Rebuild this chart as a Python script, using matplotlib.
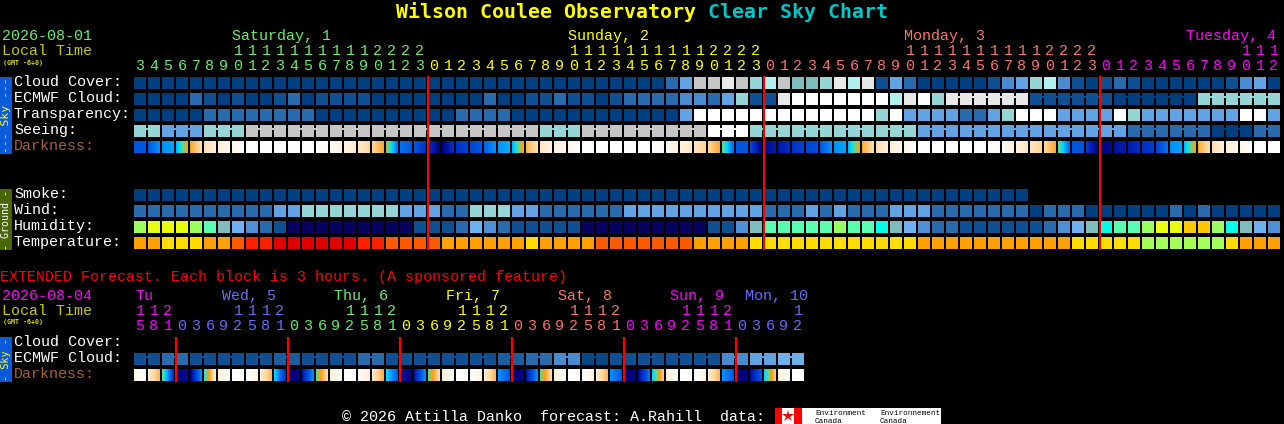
import numpy as np
import matplotlib
matplotlib.use("Agg")
import matplotlib.pyplot as plt
from matplotlib.colors import LinearSegmentedColormap

# ---------- data: category levels per block ----------
cloud = [0]*38 + [2, 4, 8, 8, 9, 8, 6, 7, 8, 5, 5, 6, 9, 7, 9, 1, 4, 2, 0, 0, 0, 0, 0, 1, 3, 4, 6, 7, 3, 1, 0, 1, 2, 1,
         0, 0, 0, 0, 0, 0, 1, 3, 4, 0]
ecmwf = [0, 0, 0, 0, 2, 1, 0, 1, 0, 0, 1, 2, 0, 1, 1, 1, 1, 0, 0, 0, 0,
         0, 0, 0, 0, 2, 0, 0, 1, 1, 2, 1, 1, 0, 1, 2, 2, 2, 2, 3, 3, 2, 4, 6, 1, 1, 9, 10, 10, 10, 10, 10,
         10, 10, 7, 9, 10, 6, 9, 9, 9, 9, 9, 9, 1, 1, 1, 1, 1, 1, 0, 0, 0, 0, 0, 0, 6, 6, 6, 6, 6, 6]
ecmwf_runs = [1]*58 + [6, 6, 6, 6]
transp = [0, 0, 0, 0, 0, 2, 2, 2, 2, 2, 2, 2, 2, 0, 0, 0, 0, 0, 0, 0, 0,
          0, 0, 2, 2, 2, 2, 0, 0, 0, 0, 0, 0, 0, 0, 0, 0, 0, 0, 4, 10, 10, 10, 10, 10, 10, 10, 10, 10, 10, 10, 10,
          10, 6, 10, 4, 4, 4, 4, 2, 2, 4, 6, 10, 10, 10, 4, 4, 4, 4, 10, 6, 4, 4, 4, 4, 4, 4, 4, 10, 10, 4]
seeing_runs = [2, 3, 3, 3, 3, 3, 3, 3, 3, 3, 3, 3, 3, 3, 3, 3, 3, 3, 3, 3, 3, 3, 3, 3, 3, 3, 3, 2]
seeing_levels = [6, 4, 6, 8, 8, 8, 8, 8, 8, 8, 6, 8, 8, 8, 10, 6, 6, 6, 6, 4, 4, 4, 4, 4, 2, 2, 0, 2]

dark_start = [2, 2, 3, 3.5, 6.2, 7.5, 8, 8.5, 9, 9, 9, 9, 9, 9, 8.7, 8.3, 7.8, 7.2, 5.5, 2.5, 2,
              1, 0, 1, 1.5, 2.2, 3, 3.5, 6.5, 7.7, 8.2, 8.5, 9, 9, 9, 9, 9, 9, 8.6, 8.2, 7.7, 7.2, 5, 2, 1.5, 0.3, 0.5, 1, 1.5, 2, 3, 3.5,
              6.3, 7.5, 8, 8.5, 9, 9, 9, 9, 9, 9, 8.6, 8.2, 7.7, 7.2, 5, 2, 1.2, 0.1, 0.4, 0.6, 1, 1.5, 3, 3.6, 6.3, 7.5, 8, 8.5, 9, 9]
dark_end = [2, 3, 3.3, 6, 7.5, 8, 8.5, 9, 9, 9, 9, 9, 9, 8.7, 8.3, 7.8, 7.3, 6.2, 2.5, 2, 1,
            0, 1, 1.5, 2, 3, 3.5, 6.2, 7.5, 8.2, 8.5, 9, 9, 9, 9, 9, 9, 8.6, 8.2, 7.7, 7.2, 6.2, 2.3, 2, 0, 0.6, 1, 1.5, 1.8, 3, 3.3, 6,
            7.5, 8, 8.5, 9, 9, 9, 9, 9, 9, 8.6, 8.2, 7.7, 7.2, 6.2, 2.3, 2, 0, 0.2, 0.6, 1, 1.3, 2.5, 3.3, 6, 7.5, 8, 8.5, 9, 9, 9]

smoke = [0]*64
wind = [2]*10 + [4, 4] + [6]*7 + [4, 4, 4, 2, 2, 6, 6, 6, 4, 4, 2, 2, 2, 2, 2, 2] + [4]*10 + [2, 2, 2, 4, 2, 4, 2,
        2, 2, 4, 4, 4, 2, 2, 2, 2, 2, 2, 2, 0, 2, 2, 2, 0, 0, 0, 0, 0, 0, 2, 0, 2, 0, 0, 0, 0, 0]
humidity = [8, 9, 9, 9, 8, 6, 5, 4, 3, 2, 1] + [0]*9 + [1, 1, 1, 2, 4, 3, 2, 1, 1, 1, 1, 1] + [0]*9 + [1, 1, 3, 5, 6, 6, 6, 6, 6, 8, 6,
            6, 7, 5, 4, 3, 2, 2, 1, 1, 1, 1, 1, 1, 2, 3, 4, 5, 7, 6, 6, 8, 9, 9, 10, 10, 8, 7, 5, 4, 3]
temp = [2, 2, 1, 1, 1, 2, 2, 3, 4, 4, 5, 5, 5, 5, 5, 5, 4, 4, 3, 3, 3,
        3, 2, 2, 2, 2, 2, 2, 1, 2, 2, 2, 2, 3, 3, 3, 3, 3, 3, 3, 2, 2, 2, 2, 1, 1, 1, 1, 1, 1, 1, 1,
        1, 1, 1, 1, 2, 2, 2, 2, 2, 2, 2, 2, 2, 2, 2, 1, 1, 1, 1, 1, 0, 0, 0, 0, 0, 0, 1, 2, 2, 2]

ext_ecmwf_levels = [1, 2, 1, 1, 1, 1.5, 1, 1, 2, 1, 1, 1, 1, 1.5, 2, 3, 0.5, 1, 1, 1, 1, 3, 4, 4.5]
ext_dark_start = [8.5, 8, 5, 0, 0, 4.5, 8, 9, 9, 8, 4, 0, 0.5, 5, 8, 9, 8.8, 7.8, 4, 0.5, 0.5, 5, 8, 9,
                  9, 8, 3, 0, 0.5, 5, 8, 9, 9, 8, 3, 0, 0.2, 4, 8, 9, 9, 8, 3, 0, 0.3, 4, 8, 9]
ext_dark_end = [9, 6.5, 1, 0.3, 3, 8, 9, 9, 8.3, 6.5, 1, 0, 3, 7.5, 9, 9, 8, 6.3, 2, 0, 3, 7.5, 9, 9,
                8.3, 6.5, 2, 0, 3, 7.5, 9, 9, 8.3, 6.5, 2, 0, 2.5, 7, 9, 9, 8.3, 6.5, 2, 0, 2, 7, 9, 9]

tens_main = "       11111111112222" + ("          1111111111" + "2222")*2 + "          111"
units_main = "345678901234567890123" + "012345678901234567890123"*2 + "0123456789012"
tens_ext = "112" + "    1112"*5 + "    1"
units_ext = "581" + "03692581"*5 + "03692"

day_names = ["Saturday, 1", "Sunday, 2", "Monday, 3", "Tuesday, 4"]
ext_day_names = ["Tu", "Wed, 5", "Thu, 6", "Fri, 7", "Sat, 8", "Sun, 9", "Mon, 10"]

# ---------- styles ----------
SKY = {0: "#003f7f", 0.5: "#074786", 1: "#0f4f92", 1.5: "#1c5c9f", 2: "#2a6bad", 3: "#4a8bd0", 4: "#63a3e3",
       4.5: "#6fb0ec", 5: "#80bcbc", 6: "#95d5d5", 7: "#b0f0f0", 8: "#c6c6c6", 9: "#e8e8e8", 10: "#ffffff"}
HUM = {0: "#08005f", 1: "#0f4f92", 2: "#2a6bad", 3: "#4f8fd3", 4: "#70b0f0", 5: "#80bcbc", 6: "#5affb0",
       7: "#00ffe8", 8: "#9cff60", 9: "#e8ff10", 10: "#ffc800"}
TMP = {0: "#a4ff58", 1: "#ffdc00", 2: "#ff9f00", 3: "#ff5a00", 4: "#ff2000", 5: "#e00000"}
DARK = LinearSegmentedColormap.from_list("dark", ["#000080", "#0030c8", "#0058e0", "#0090ff", "#00d8ff",
                                                  "#60d890", "#ff9c10", "#ffcf88", "#ffefd8", "#ffffff"])
GREEN, YELLOW, SALMON, MAGENTA, PERI = "#66f066", "#ffff00", "#ff7070", "#ff00ff", "#6a6aff"
X0, STEP, W = 134, 14, 12
MONO = "Liberation Mono"
FS = 10.8

fig = plt.figure(figsize=(12.84, 4.24), dpi=100, facecolor="black")
ax = fig.add_axes([0, 0, 1, 1], facecolor="black")
ax.set_axis_off()


def blocks(values, palette, y, runs=None):
    xs = X0 + STEP*np.arange(len(values))
    ax.bar(xs, W, W, y, color=[palette[v] for v in values], align="edge", linewidth=0, antialiased=False)
    if runs is not None:
        i = 0
        for n in runs:
            if n > 1:
                ax.bar(xs[i:i+n-1] + W, STEP - W, 6, y + 3, color=palette[values[i]], align="edge",
                       linewidth=0, antialiased=False)
            i += n


def gradient(start, end, y):
    for i, (a, b) in enumerate(zip(start, end)):
        x = X0 + STEP*i
        ax.imshow(np.linspace(a, b, W)[None, :], cmap=DARK, vmin=0, vmax=9, aspect="auto",
                  extent=(x, x + W, y + W, y), interpolation="nearest")


def txt(x, y, s, color="white", size=FS, **kw):
    kw.setdefault("family", MONO)
    ax.text(x, y, s, color=color, fontsize=size, va="baseline", ha=kw.pop("ha", "left"), **kw)


def vrules(xs, top, bottom):
    ax.bar(xs, bottom - top, 2, top, color="#ff0000", align="edge", linewidth=0, antialiased=False, zorder=5)


# ---------- main chart ----------
blocks(cloud, SKY, 77)
blocks(ecmwf, SKY, 93, ecmwf_runs)
blocks(transp, SKY, 109)
seeing = np.repeat(seeing_levels, seeing_runs).tolist()
blocks(seeing, SKY, 125, seeing_runs)
gradient(dark_start, dark_end, 141)
blocks(smoke, SKY, 189)
blocks(wind, SKY, 205)
blocks(humidity, HUM, 221)
blocks(temp, TMP, 237)

ext_vals = np.repeat(ext_ecmwf_levels, 2).tolist()
blocks(ext_vals, SKY, 353, [2]*24)
gradient(ext_dark_start, ext_dark_end, 369)

vrules([427, 763, 1099], 76, 250)
vrules([175, 287, 399, 511, 623, 735], 337, 382)

# title
txt(396, 18, "Wilson Coulee Observatory", YELLOW, 14.35, fontweight="bold", family="DejaVu Sans Mono")
txt(708, 18, "Clear Sky Chart", "#00c8c8", 14.35, fontweight="bold", family="DejaVu Sans Mono")

# main header
txt(2, 40, "2026-08-01", GREEN)
txt(2, 55, "Local Time", "#c8c800")
txt(3, 65, "(GMT -6+0)", "#e0e000", 4.8, fontweight="bold", family="DejaVu Sans Mono")
for x, name, c in zip([232, 568, 904, 1186], day_names, [GREEN, YELLOW, SALMON, MAGENTA]):
    txt(x, 40, name, c)
for i, (t, u) in enumerate(zip(tens_main, units_main)):
    c = GREEN if i < 21 else YELLOW if i < 45 else SALMON if i < 69 else MAGENTA
    x = X0 + STEP*i + 6
    if t != " ":
        txt(x, 55, t, c, ha="center")
    txt(x, 70, u, c, ha="center")

for y, s, c in [(86, "Cloud Cover:", "white"), (102, "ECMWF Cloud:", "white"), (118, "Transparency:", "white"),
                (134, "Seeing:", "white"), (150, "Darkness:", "#a8602c"), (198, "Smoke:", "white"),
                (214, "Wind:", "white"), (230, "Humidity:", "white"), (246, "Temperature:", "white"),
                (346, "Cloud Cover:", "white"), (362, "ECMWF Cloud:", "white"), (378, "Darkness:", "#a8602c")]:
    txt(14, y, s, c)

# side bars
ax.bar(0, 77, 12, 77, color="#0a5adc", align="edge", linewidth=0, antialiased=False)
ax.bar(0, 61, 12, 189, color="#4a6408", align="edge", linewidth=0, antialiased=False)
ax.bar(0, 45, 12, 337, color="#0a5adc", align="edge", linewidth=0, antialiased=False)
ax.text(6, 115.5, "--- Sky ---", color="#ffff00", fontsize=8.2, rotation=90, family="DejaVu Sans Mono", ha="center", va="center")
ax.text(6, 219.5, "- Ground -", color="white", fontsize=7.2, rotation=90, family="DejaVu Sans Mono", ha="center", va="center")
ax.text(6, 359.5, "- Sky -", color="#ffff00", fontsize=7.4, rotation=90, family="DejaVu Sans Mono", ha="center", va="center")

# extended header
txt(0, 281, "EXTENDED Forecast. Each block is 3 hours. (A sponsored feature)", "#ff0000")
txt(2, 300, "2026-08-04", MAGENTA)
txt(2, 315, "Local Time", "#c8c800")
txt(3, 324, "(GMT -6+0)", "#e0e000", 4.8, fontweight="bold", family="DejaVu Sans Mono")
ext_colors = [MAGENTA, PERI, GREEN, YELLOW, SALMON, MAGENTA, PERI]
for x, name, c in zip([135, 222, 334, 446, 558, 670, 745], ext_day_names, ext_colors):
    txt(x, 300, name, c)
for i, (t, u) in enumerate(zip(tens_ext, units_ext)):
    group = 0 if i < 3 else (i - 3)//8 + 1
    x = X0 + STEP*i + 6
    if t != " ":
        txt(x, 315, t, ext_colors[group], ha="center")
    txt(x, 330, u, ext_colors[group], ha="center")

# footer
txt(342, 421, "\u00a9 2026 Attilla Danko  forecast: A.Rahill  data:")
ax.bar(775, 16, 166, 408, color="white", align="edge", linewidth=0, antialiased=False)
ax.bar([775, 794], 16, [7, 8], 408, color="#ff0000", align="edge", linewidth=0, antialiased=False)
ax.plot([788], [415.5], marker="*", color="#ff0000", markersize=9, markeredgewidth=0)
txt(815, 415, "Environment", "black", 5.5)
txt(815, 423, "Canada", "black", 5.5)
txt(880, 415, "Environnement", "black", 5.5)
txt(880, 423, "Canada", "black", 5.5)

ax.set_xlim(0, 1284)
ax.set_ylim(424, 0)
fig.savefig("out.png", dpi=100, facecolor="black")
